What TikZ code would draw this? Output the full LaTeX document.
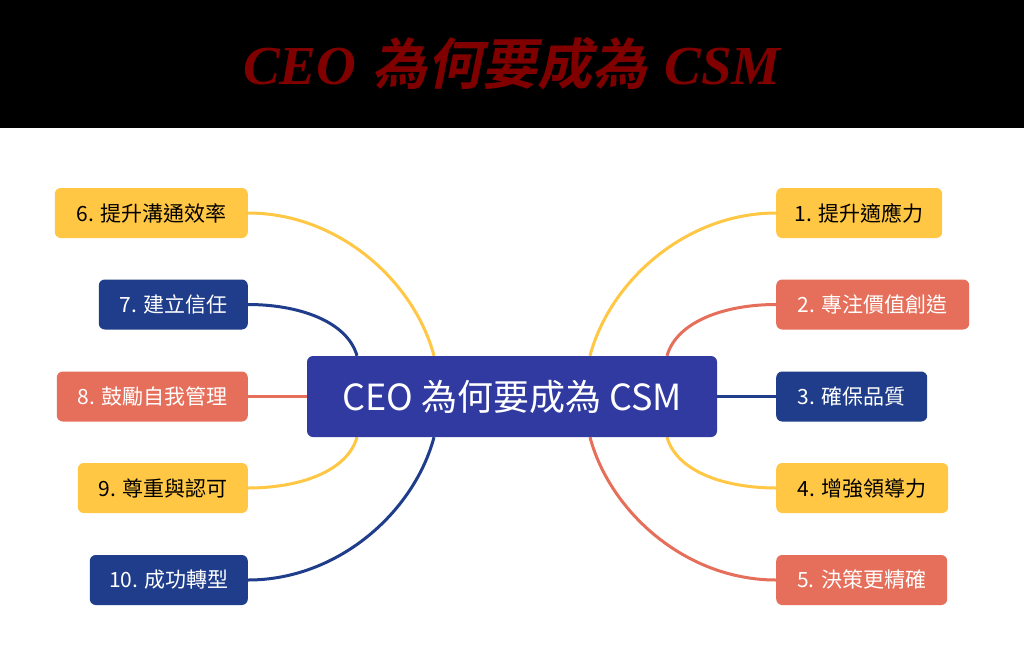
\documentclass[tikz,border=0pt]{standalone}
\usepackage{fontspec}
\newfontfamily\boxfont{Noto Sans CJK TC}
\newfontfamily\titlecjk{Noto Sans CJK TC Bold}[FakeSlant=0.2]
\newfontfamily\titlelatin{Liberation Serif}
\usetikzlibrary{backgrounds}
\definecolor{mapyellow}{RGB}{255,199,68}
\definecolor{mapcoral}{RGB}{229,111,90}
\definecolor{mapnavy}{RGB}{31,61,138}
\definecolor{mapindigo}{RGB}{48,58,160}
\definecolor{titlered}{RGB}{128,0,0}
\begin{document}
\begin{tikzpicture}
[x=1pt,y=-1pt,
  nodedecorate/.style={shape=rectangle,rounded corners=6pt,inner sep=0pt,%
    minimum height=50pt,font=\boxfont\fontsize{21}{25}\selectfont},%
  centerdecorate/.style={nodedecorate,fill=mapindigo,text=white,%
    minimum width=410pt,minimum height=81pt,font=\boxfont\fontsize{36}{43}\selectfont},%
  linedecorate/.style={-,line width=3pt}]
\useasboundingbox (0,0) rectangle (1024,664);
%% title
\node (title) at (512,64) [text=titlered,font=\fontsize{55}{60}\selectfont]
  {{\titlelatin\bfseries\itshape CEO} {\titlecjk 為何要成為} {\titlelatin\bfseries\itshape CSM}};
%% nodes or boxes
\node (ceo) at (512,396.5) [centerdecorate] {CEO 為何要成為 CSM};
\foreach \nodename/\x/\y/\w/\side/\fillcol/\textcol/\txt in {
  n1/776/213/166/west/mapyellow/black/1. 提升適應力,
  n2/776/304.5/193/west/mapcoral/white/2. 專注價值創造,
  n3/776/396.5/151/west/mapnavy/white/3. 確保品質,
  n4/776/488/172/west/mapyellow/black/4. 增強領導力,
  n5/776/580/171/west/mapcoral/white/5. 決策更精確,
  n6/248/213/193/east/mapyellow/black/6. 提升溝通效率,
  n7/248/304.5/149/east/mapnavy/white/7. 建立信任,
  n8/248/396.5/191/east/mapcoral/white/8. 鼓勵自我管理,
  n9/248/488/170/east/mapyellow/black/9. 尊重與認可,
  n10/248/580/158/east/mapnavy/white/10. 成功轉型} {
  \node (\nodename) at (\x,\y) [nodedecorate,anchor=\side,minimum width=\w pt,%
    fill=\fillcol,text=\textcol] {\txt};
}
\begin{scope}[on background layer]
%% page
\fill[black] (0,0) rectangle (1024,128);
\fill[white] (0,128) rectangle (1024,664);
%% edges or lines
\foreach \fromside/\shift/\tonode/\toside/\col/\ax/\ay/\bx/\by in {
  north/78/n1/west/mapyellow/20/-75/-90/0,
  north/155/n2/west/mapcoral/10/-35/-50/0,
  east/0/n3/west/mapnavy/0/0/0/0,
  south/155/n4/west/mapyellow/10/35/-50/0,
  south/78/n5/west/mapcoral/20/75/-90/0,
  north/-78/n6/east/mapyellow/-20/-75/90/0,
  north/-155/n7/east/mapnavy/-10/-35/50/0,
  west/0/n8/east/mapcoral/0/0/0/0,
  south/-155/n9/east/mapyellow/-10/35/50/0,
  south/-78/n10/east/mapnavy/-20/75/90/0} {
  \draw[linedecorate,\col] ([xshift=\shift pt]ceo.\fromside)
    .. controls +(\ax,\ay) and +(\bx,\by) .. (\tonode.\toside);
}
\end{scope}
\end{tikzpicture}
\end{document}
